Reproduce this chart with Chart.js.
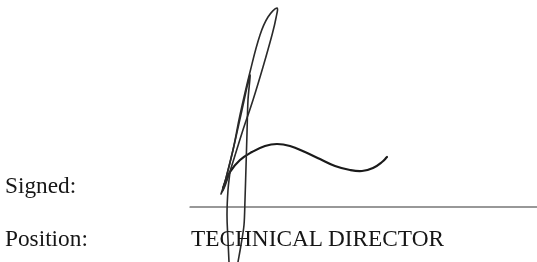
<!DOCTYPE html>
<html>
<head>
<meta charset="utf-8">
<script src="https://cdn.jsdelivr.net/npm/chart.js@4"></script>
<style>
  html, body { margin: 0; padding: 0; background: #fff; }
  #wrap { position: relative; width: 537px; height: 262px; overflow: hidden; }
  canvas { position: absolute; left: 0; top: 0; }
  .lbl { position: absolute; font-family: "Liberation Serif", "Times New Roman", serif; font-size: 23.3px; line-height: 23px; color: #161616; white-space: nowrap; }
</style>
</head>
<body>
<div id="wrap">
  <canvas id="sig" width="537" height="262"></canvas>
  <div class="lbl" style="left:5px; top:174px;">Signed:</div>
  <div class="lbl" style="left:5px; top:227px;">Position:</div>
  <div class="lbl" style="left:191px; top:227px;">TECHNICAL DIRECTOR</div>
</div>
<script>
// signature strokes, in picture units (x right, y down)
const loopStroke = [
  [221, 194], [226, 178], [233, 150], [240, 115], [250, 72], [260, 35], [268, 17], [277, 8],
  [276, 18], [272, 35], [263, 67], [253, 100], [242, 133], [232, 165], [225, 186], [221, 194]
];
const spikeStroke = [
  [223, 190], [233, 150], [242, 110], [250, 75],
  [248, 100], [247, 133], [246, 167], [245, 200], [244, 225], [241, 245], [238, 262]
];
const tailStroke = [
  [230, 172], [228, 190], [227, 215], [228, 240], [229, 262]
];
const waveStroke = [
  [223, 188], [230, 172], [240, 160], [252, 152], [265, 146], [277, 144], [290, 146],
  [305, 152], [320, 159], [335, 166], [350, 170], [362, 171], [373, 168], [382, 162], [387, 157]
];
const signLine = [[190, 207], [537, 207]];

const pts = arr => arr.map(p => ({x: p[0], y: p[1]}));

const stroke = (data, width, color, tension) => ({
  data: pts(data),
  showLine: true,
  borderColor: color,
  borderWidth: width,
  pointRadius: 0,
  tension: tension,
  fill: false,
  borderCapStyle: 'round',
  borderJoinStyle: 'round'
});

new Chart(document.getElementById('sig'), {
  type: 'scatter',
  data: {
    datasets: [
      stroke(signLine, 1.2, '#333333', 0),
      stroke(loopStroke, 1.6, '#2a2a2a', 0.4),
      stroke(spikeStroke, 1.6, '#2a2a2a', 0.3),
      stroke(tailStroke, 1.6, '#2a2a2a', 0.4),
      stroke(waveStroke, 2.2, '#1a1a1a', 0.4)
    ]
  },
  options: {
    responsive: false,
    animation: false,
    layout: { padding: 0 },
    plugins: { legend: { display: false }, tooltip: { enabled: false } },
    scales: {
      x: { type: 'linear', min: 0, max: 537, display: false },
      y: { type: 'linear', min: 0, max: 262, reverse: true, display: false }
    }
  }
});
</script>
</body>
</html>
